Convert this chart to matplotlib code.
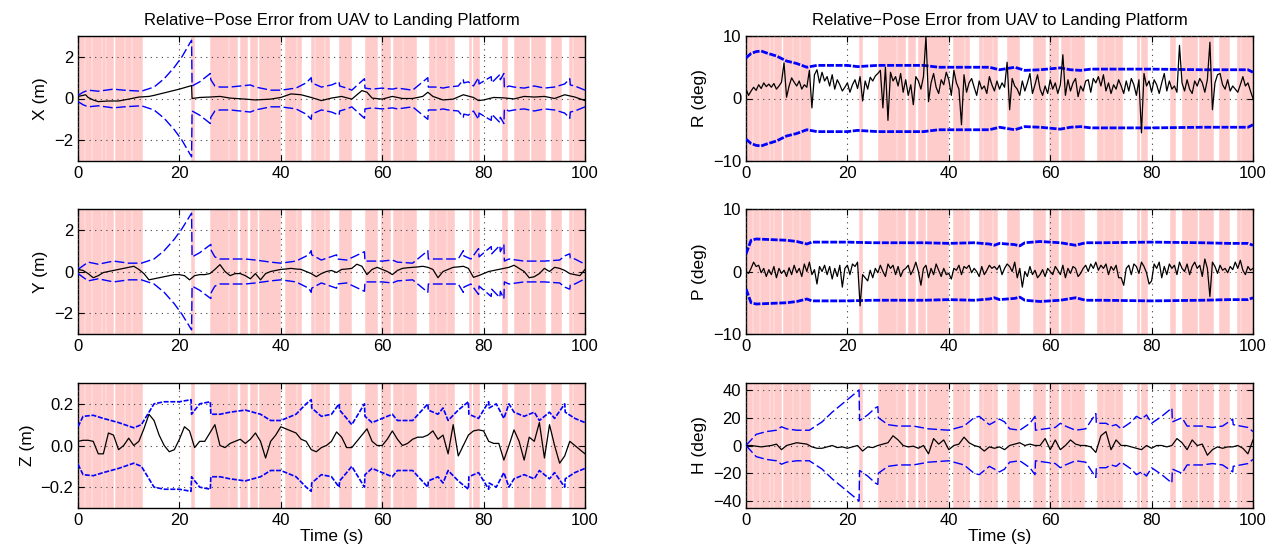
import numpy as np
import matplotlib
matplotlib.use("Agg")
import matplotlib.pyplot as plt

plt.rcParams['font.family'] = ['Liberation Sans', 'DejaVu Sans']

TITLE = "Relative\u2212Pose Error from UAV to Landing Platform"

# ---- measurement-available (pink) intervals, seconds ----
pink_start = [0.2, 1.4, 2.7, 4.7, 5.6, 7.2, 9.2, 10.7, 22.2, 26.1, 29.7, 31.9, 33.9, 35.7,
              40.9, 43.2, 45.9, 46.8, 48.8, 51.4, 56.7, 59.7, 62.2, 64.2, 69.2, 70.6, 72.7,
              77.1, 77.9, 83.7, 86.0, 89.3, 93.2, 96.8, 97.7]
pink_end = [1.2, 2.5, 4.5, 5.4, 7.0, 9.0, 10.5, 12.7, 22.8, 29.5, 31.4, 33.4, 35.3, 39.9,
            42.9, 43.9, 46.6, 48.6, 49.5, 53.9, 59.0, 61.6, 64.0, 66.6, 70.4, 72.5, 74.1,
            77.6, 79.1, 84.7, 88.9, 92.2, 95.2, 97.5, 100.0]

# ---- X ----
xk_t = [0, 1, 1.5, 2, 3, 4, 6, 8, 10, 12, 14, 15, 18, 20, 22.4, 22.5, 24, 26, 28, 30,
        33, 35, 38, 40, 42, 44, 46, 48, 50, 52, 54, 56, 57, 58, 60, 62, 64, 66, 68, 69,
        70, 72, 74, 76, 78, 79, 80, 82, 84, 86, 88, 90, 92, 94, 96, 98, 100]
xk_v = [0.1, 0.15, 0.18, 0.05, -0.07, -0.15, -0.12, -0.12, -0.03, 0.07,
        0.1, 0.15, 0.33, 0.45, 0.62, 0.0, 0.05, 0.07, 0.1, 0.02,
        -0.03, -0.07, -0.03, 0.05, 0.22, 0.18, 0.05, -0.1, 0.02, 0.1,
        -0.03, 0.38, 0.3, 0.02, -0.03, 0.1, 0.0, 0.0, 0.1, 0.3,
        0.1, -0.07, -0.03, 0.18, 0.05, -0.1, -0.07, 0.05, 0.03, -0.02,
        0.1, 0.07, 0.1, 0.0, 0.18, 0.07, -0.1]
xb_t = [0, 1, 2, 4, 7, 9, 12.5, 15, 17, 19, 20.5, 22.4, 22.5, 24, 26.1, 26.2, 27, 28, 30,
        32, 34, 35, 38, 40, 43, 45, 46, 46.1, 48, 50, 51.5, 51.6, 53, 54, 56.5, 56.6, 58,
        60, 62, 63, 66, 69, 69.1, 71, 72, 73, 75, 76, 76.1, 77, 78, 79, 79.1, 81.5, 81.6,
        83.2, 83.3, 84, 84.1, 85, 86, 88, 90, 92, 94, 96, 97, 97.1, 98, 100]
xb_v = [0.15, 0.3, 0.4, 0.35, 0.45, 0.4, 0.35, 0.55, 0.95, 1.5, 2.0, 2.8, 0.6, 0.8, 1.2,
        0.9, 0.6, 0.55, 0.55, 0.6, 0.65, 0.55, 0.4, 0.4, 0.5, 0.75, 1.0, 0.75, 0.55, 0.65,
        0.8, 0.6, 0.5, 0.4, 0.95, 0.5, 0.45, 0.5, 0.45, 0.5, 0.4, 1.0, 0.55, 0.55, 0.5,
        0.55, 0.6, 0.9, 0.75, 0.8, 0.6, 1.0, 0.7, 1.05, 0.75, 1.15, 0.9, 1.2, 0.5, 0.6,
        0.55, 0.5, 0.6, 0.5, 0.55, 0.7, 0.95, 0.65, 0.6, 0.4]

# ---- Y ----
yk_t = list(range(0, 101))
yk_v = [0.1, 0.05, -0.1, -0.3, -0.2, -0.05, 0.0, 0.05, 0.1, 0.15,
        0.2, 0.25, 0.1, -0.1, -0.4, -0.35, -0.3, -0.25, -0.2, -0.15,
        -0.15, -0.2, -0.4, -0.2, -0.15, -0.15, -0.1, 0.1, 0.33, 0.0,
        -0.2, -0.1, -0.1, -0.2, -0.35, -0.1, -0.4, -0.1, 0.0, 0.05,
        0.1, 0.12, 0.15, 0.12, 0.1, 0.0, -0.1, -0.25, -0.1, 0.0,
        0.05, -0.05, 0.1, 0.12, 0.15, 0.35, 0.25, -0.15, 0.1, 0.2,
        0.1, 0.0, -0.15, 0.05, 0.15, 0.18, 0.2, 0.22, 0.25, 0.2,
        0.1, -0.3, 0.0, 0.1, 0.2, 0.22, 0.25, 0.15, -0.28, -0.2,
        -0.1, 0.0, 0.05, 0.1, 0.15, 0.2, 0.3, 0.15, 0.0, -0.3,
        -0.25, -0.1, 0.15, 0.0, 0.2, 0.15, 0.05, -0.1, -0.15, -0.2, 0.1]
yb_t = [0, 2, 4, 7, 10, 12.5, 15, 17, 19, 20.5, 22.4, 22.5, 24, 26.2, 26.3, 27, 28, 33,
        35, 38, 40, 43, 45.5, 46, 46.1, 48, 51, 51.1, 53, 56.5, 56.6, 60, 62, 63, 66, 69,
        69.1, 73, 75, 76, 76.1, 77.5, 79, 79.1, 81.5, 81.6, 83.2, 83.3, 84, 84.1, 85, 88,
        92, 95, 96, 97, 97.1, 98, 100]
yb_v = [0.1, 0.45, 0.35, 0.5, 0.4, 0.4, 0.6, 1.0, 1.55, 2.05, 2.8, 0.7, 0.9, 1.3, 1.0,
        0.7, 0.6, 0.6, 0.55, 0.45, 0.4, 0.5, 0.8, 1.0, 0.8, 0.55, 0.8, 0.6, 0.55, 0.95,
        0.5, 0.5, 0.55, 0.45, 0.4, 1.0, 0.6, 0.6, 0.6, 1.0, 0.75, 0.6, 1.1, 0.7, 1.2,
        0.85, 1.25, 0.95, 1.3, 0.5, 0.6, 0.5, 0.5, 0.55, 0.75, 0.85, 0.65, 0.6, 0.35]

# ---- Z ----
zk_t = list(range(0, 101))
zk_v = [0.02, 0.025, 0.025, 0.02, -0.04, -0.04, 0.06, 0.05, -0.02, 0.0,
        0.035, 0.0, 0.02, 0.08, 0.15, 0.12, 0.05, 0.0, -0.03, -0.02,
        0.03, 0.09, 0.07, -0.01, 0.02, 0.02, 0.06, 0.1, 0.0, -0.01,
        0.01, 0.02, 0.03, 0.01, 0.03, 0.06, 0.02, -0.06, 0.02, 0.05,
        0.09, 0.08, 0.07, 0.06, 0.03, 0.02, -0.02, -0.03, -0.01, 0.0,
        0.02, 0.065, 0.04, -0.01, -0.01, 0.02, 0.05, 0.08, 0.02, 0.0,
        0.0, 0.03, 0.07, 0.03, 0.0, 0.01, 0.03, 0.04, 0.04, 0.05,
        0.07, 0.03, 0.05, -0.04, 0.10, -0.05, 0.0, 0.05, 0.07, 0.075,
        0.07, 0.02, 0.01, 0.01, -0.07, 0.0, 0.075, 0.02, -0.07, 0.04,
        0.02, 0.11, -0.06, 0.10, 0.0, -0.085, -0.05, 0.02, 0.0, -0.02, -0.04]
zb_t = [0, 1, 3, 5, 8, 11, 12.5, 14, 15, 17, 20, 22.3, 22.4, 24, 26.1, 26.2, 28, 30, 33,
        36, 38, 40, 43, 45, 46, 46.1, 48, 50, 51.5, 51.6, 53, 54, 56.5, 56.6, 58, 60, 62,
        63, 66, 69, 69.1, 71, 72, 73, 75, 77, 77.1, 79, 81, 81.1, 82.5, 84, 85, 86, 88, 90,
        91, 93, 94, 96, 96.1, 98, 100]
zb_v = [0.09, 0.14, 0.145, 0.13, 0.11, 0.085, 0.1, 0.16, 0.2, 0.21, 0.21, 0.22, 0.15,
        0.2, 0.21, 0.15, 0.15, 0.16, 0.17, 0.15, 0.12, 0.12, 0.15, 0.2, 0.22, 0.18, 0.14,
        0.15, 0.2, 0.17, 0.13, 0.1, 0.2, 0.14, 0.11, 0.13, 0.15, 0.12, 0.12, 0.2, 0.17,
        0.15, 0.18, 0.12, 0.17, 0.21, 0.15, 0.13, 0.21, 0.18, 0.2, 0.13, 0.2, 0.16, 0.14,
        0.16, 0.12, 0.16, 0.13, 0.2, 0.16, 0.13, 0.11]

# ---- R (roll) ----
rk_t = [i * 0.5 for i in range(201)]
rk_v = [1.5, 0.5, 1.2, 1.8, 1.3, 2.2, 1.6, 2.5, 1.9, 2.3,
        1.8, 2.4, 1.5, 2.0, 2.6, 5.7, 0.2, 2.0, 3.3, 2.6,
        2.0, 2.8, 1.5, 2.2, 1.8, 4.5, -1.5, 3.8, 4.6, 2.5,
        4.2, 2.8, 3.5, 2.0, 3.8, 1.5, 3.0, 2.2, 1.2, 1.8,
        2.5, 1.0, 2.2, 3.0, 1.6, 3.5, -0.4, 2.8, 1.5, 3.4,
        2.8, 3.6, 4.0, 4.5, -1.5, 5.0, -3.5, 4.2, 2.8, 3.5,
        2.0, 4.0, 1.0, 3.0, 0.5, 2.2, -1.0, 3.5, 2.8, 1.5,
        3.5, 10.0, -0.5, 2.5, 4.0, 1.8, 0.8, 3.0, 2.2, 4.2,
        3.0, 0.5, 4.5, 2.5, 1.5, -4.2, 3.8, 1.0, 2.5, 3.2,
        1.8, 0.5, 2.8, 1.5, 2.0, 0.8, 3.5, 2.2, 1.2, 2.8,
        1.5, 2.5, 1.8, 5.8, -1.8, 3.2, 2.0, 1.5, 0.5, 2.8,
        1.2, 2.5, 4.0, 0.8, 2.2, 3.8, 1.5, 0.5, 2.0, 0.8,
        3.0, 1.5, 2.5, 0.8, 2.2, 7.0, 0.5, 3.0, 1.2, 2.5,
        3.2, 0.3, 2.0, 1.2, 2.8, 3.0, 1.0, 3.2, 2.5, 3.5,
        2.0, 3.8, 1.2, 2.5, 0.8, 2.2, 1.5, 3.0, 2.0, 0.8,
        2.8, 1.2, 3.2, 2.2, 0.5, 3.0, -5.5, 4.0, 2.0, 2.8,
        1.0, 3.0, 2.2, 0.8, 2.5, 4.0, 1.2, 2.8, 1.5, 2.0,
        1.0, 8.5, 2.5, 1.2, 3.0, 1.5, 0.8, 2.8, 2.0, 3.2,
        2.5, 1.0, 3.0, 9.0, -1.8, 2.5, 3.8, 4.0, 2.2, 1.5,
        3.0, 1.2, 2.0, 1.5, 1.0, 2.2, 3.5, 2.0, 2.5, 1.2,
        0.0]
rb_t = [0, 1, 2, 3, 4, 6, 8, 10, 12, 14, 20, 22, 26, 35, 38, 45, 48, 50, 53, 55, 58, 62,
        64, 66, 68, 72, 77, 80, 90, 99, 100]
rb_v = [6.5, 7.2, 7.5, 7.6, 7.3, 6.8, 6.0, 5.6, 5.0, 5.3, 5.3, 5.1, 5.3, 5.3, 5.0, 5.0,
        5.0, 4.6, 5.0, 4.5, 4.6, 4.9, 4.6, 4.5, 4.7, 4.7, 4.7, 4.7, 4.6, 4.6, 4.2]

# ---- P (pitch) ----
pk_t = [i * 0.5 for i in range(201)]
pk_v = [0.0, -0.3, 0.5, 1.5, 0.8, 1.0, -0.2, 0.5, -0.8, 0.3,
        -0.5, 0.8, -1.0, 0.5, -0.3, 0.2, -0.8, 0.6, -0.5, 1.0,
        -0.2, 0.5, -0.8, 1.2, 0.0, 1.5, -0.5, 0.3, -2.0, 0.8,
        0.0, 1.0, -0.5, 0.8, -1.2, 0.5, -0.8, 1.0, -2.5, 0.5,
        1.0, -0.5, 1.2, 0.8, 1.5, -5.5, -0.5, -1.0, -1.5, 0.2,
        -1.0, 0.5, -0.2, 1.0, 0.0, -0.8, 1.2, 0.5, 1.0, -0.5,
        0.8, -0.8, 0.2, 0.5, 1.0, -0.5, 0.3, 1.5, 0.0, -2.2,
        0.5, 1.0, -1.0, 0.5, -0.5, 1.2, 0.2, -0.8, 0.5, -0.5,
        -0.3, -1.2, 0.5, 0.2, 1.0, -0.5, 0.8, 0.5, 1.0, -0.2,
        0.5, 0.0, -0.8, 0.8, -0.5, 0.2, 1.0, 0.5, 0.8, 0.3,
        1.0, -0.5, 0.5, 1.2, 0.8, 0.0, 1.5, -1.0, 0.5, -2.5,
        0.0, -0.8, 0.8, -0.5, 0.2, -1.0, -0.5, 0.3, -0.8, 0.5,
        0.0, -0.5, 0.8, 0.2, -0.5, 1.0, -1.0, 0.5, -0.3, 0.8,
        0.5, -0.8, -0.3, 0.5, 1.0, 0.0, 1.2, 0.5, 1.5, 0.2,
        1.0, 0.5, 1.2, -0.5, 0.8, 0.2, 1.0, -1.0, -1.0, -2.2,
        0.5, 1.0, -0.5, 1.2, 0.8, -0.3, 1.5, 0.8, -0.2, -2.0,
        -1.5, 1.2, 0.5, 1.5, -1.0, 0.8, -0.5, 1.2, 0.5, 1.0,
        -0.5, 1.5, 0.5, 0.0, 1.2, -0.5, 0.8, 1.5, 0.5, 1.0,
        -0.8, 2.0, 0.5, -4.0, 1.5, 0.8, -0.3, 1.0, 0.2, 0.5,
        -0.2, 0.8, 0.3, 1.5, 0.5, 1.8, 0.2, -0.5, 0.8, 0.2,
        0.5]
pb_t = [0, 1, 2, 5, 8, 10, 12, 13, 20, 25, 30, 35, 40, 45, 48, 49, 50, 53, 54, 55, 58,
        62, 65, 67, 70, 80, 90, 95, 99, 100]
pb_v = [2.8, 5.0, 5.2, 5.1, 5.0, 4.8, 4.4, 4.7, 4.7, 4.6, 4.6, 4.6, 4.5, 4.6, 4.4, 4.2,
        4.5, 4.3, 4.1, 4.6, 4.8, 4.6, 4.2, 4.6, 4.6, 4.7, 4.6, 4.5, 4.5, 4.2]

# ---- H (heading) ----
hk_t = list(range(0, 101))
hk_v = [0, 0, -0.5, -1, -0.5, 0, 1, -3, 0, 1,
        2, 1.5, 1, -1, -2, -2, -1, 0, -1.5, -1,
        -2, -1, 0, -4, -1, -1.5, 0, 1, 2, 7,
        4, 0, -1, -0.5, -2, 0, -6, 5, 1, 4,
        -3, 0, 1, 6, 2, 0, -1, -4, -1, -2,
        -1, -3, 0, 1, 2, 0, 1, 0, 0, 5,
        -3, 4, -3, 0, 4, 1, 0, 0, -1, -5,
        7, 10, -3, 4, 0, 0, -1, -2, -3, 0,
        -2, 0, 0, -1, 0, 5, 2, -3, 4, 0,
        1, -7, -3, -1, -2, -1, -1, 0, -2, -6, 4]
hb_t = [0, 2, 4, 6, 7, 8, 10, 12.5, 15, 17, 19, 21, 22.3, 22.4, 24, 25.5, 26, 26.1, 28,
        30, 33, 36, 40, 43, 45, 46, 47, 48, 50, 51, 52, 54, 56, 57, 57.1, 59, 61, 62, 63,
        65, 67, 69, 69.1, 71, 72, 73, 74, 76, 77, 78, 79, 80, 82, 83, 84, 84.1, 86, 87,
        90, 92, 94, 96, 96.1, 99, 100]
hb_v = [0, 8, 10, 11, 13.5, 12, 11, 11, 17, 24, 30, 36, 40, 18, 22, 27, 28, 20, 15, 14,
        14, 12, 11, 14, 20, 21, 18, 15, 19, 17, 12, 11, 16, 21, 11, 12, 13, 16, 14, 11,
        12, 23, 16, 16, 14, 15, 12, 17, 21, 19, 22, 16, 21, 24, 27, 17, 20, 14, 14, 13,
        14, 19, 15, 13, 10]

W, H = 1279, 556
fig = plt.figure(figsize=(W / 100, H / 100), dpi=100)

col_x = [78, 746]
row_y = [36, 209, 383]
aw, ah = 507, 125

def make_ax(col, row):
    left = col_x[col] / W
    bottom = 1 - (row_y[row] + ah) / H
    return fig.add_axes([left, bottom, aw / W, ah / H])

def style(ax, ylim, yticks, ylabel, xlabel=None, title=None):
    for s, e in zip(pink_start, pink_end):
        ax.axvspan(s, e, facecolor='#ffcccc', edgecolor='#ffcccc', lw=0.4, zorder=0)
    ax.set_xlim(0, 100)
    ax.set_ylim(*ylim)
    ax.set_xticks([0, 20, 40, 60, 80, 100])
    ax.set_yticks(yticks)
    ax.grid(True, linestyle=(0, (1, 4)), color='0.25', lw=0.8, zorder=1)
    ax.set_axisbelow(False)
    ax.tick_params(direction='in', top=True, right=True, labelsize=12, length=4)
    ax.set_ylabel(ylabel, fontsize=12.5)
    for sp in ax.spines.values():
        sp.set_linewidth(1.0)
    if xlabel:
        ax.set_xlabel(xlabel, fontsize=12.5, labelpad=1)
    if title:
        ax.set_title(title, fontsize=12, pad=8)

def plot_panel(ax, kt, kv, bt, bv, bstyle, blw):
    bvn = np.array(bv)
    ax.plot(bt, bvn, color='#0000ff', lw=blw, linestyle=bstyle, zorder=3)
    ax.plot(bt, -bvn, color='#0000ff', lw=blw, linestyle=bstyle, zorder=3)
    ax.plot(kt, kv, color='black', lw=0.9, zorder=4)

long_dash = (0, (7, 2.5))
short_dash = (0, (3, 1))
thick_dash = (0, (2.5, 0.6))

ax = make_ax(0, 0)
plot_panel(ax, xk_t, xk_v, xb_t, xb_v, long_dash, 1.0)
style(ax, (-3, 3), [-2, 0, 2], 'X (m)', title=TITLE)

ax = make_ax(0, 1)
plot_panel(ax, yk_t, yk_v, yb_t, yb_v, long_dash, 1.0)
style(ax, (-3, 3), [-2, 0, 2], 'Y (m)')

ax = make_ax(0, 2)
plot_panel(ax, zk_t, zk_v, zb_t, zb_v, short_dash, 1.2)
style(ax, (-0.3, 0.3), [-0.2, 0, 0.2], 'Z (m)', xlabel='Time (s)')

ax = make_ax(1, 0)
plot_panel(ax, rk_t, rk_v, rb_t, rb_v, thick_dash, 2.0)
style(ax, (-10, 10), [-10, 0, 10], 'R (deg)', title=TITLE)

ax = make_ax(1, 1)
plot_panel(ax, pk_t, pk_v, pb_t, pb_v, thick_dash, 2.0)
style(ax, (-10, 10), [-10, 0, 10], 'P (deg)')

ax = make_ax(1, 2)
plot_panel(ax, hk_t, hk_v, hb_t, hb_v, long_dash, 1.0)
style(ax, (-45, 45), [-40, -20, 0, 20, 40], 'H (deg)', xlabel='Time (s)')

fig.savefig('out.png', dpi=100)
